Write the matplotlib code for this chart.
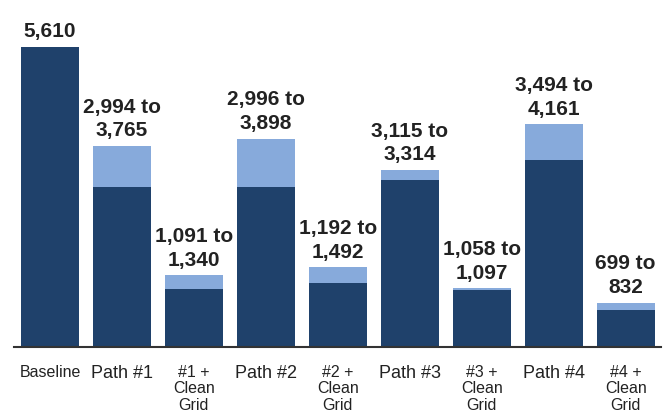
import matplotlib.pyplot as plt
import numpy as np

plt.rcParams['font.family'] = ['Liberation Sans', 'DejaVu Sans']

# scenario names and the low / high ends of each range
categories = ['Baseline', 'Path #1', '#1 +\nClean\nGrid', 'Path #2', '#2 +\nClean\nGrid',
              'Path #3', '#3 +\nClean\nGrid', 'Path #4', '#4 +\nClean\nGrid']
low_vals = [5610, 2994, 1091, 2996, 1192, 3115, 1058, 3494, 699]
high_vals = [5610, 3765, 1340, 3898, 1492, 3314, 1097, 4161, 832]
tick_sizes = [11.5, 13, 11.5, 13, 11.5, 13, 11.5, 13, 11.5]

dark = '#1f416b'
light = '#87aadb'

fig = plt.figure(figsize=(6.68, 4.16), dpi=100)
ax = fig.add_axes([14 / 668, 69 / 416, 647 / 668, 347 / 416])

x = np.arange(len(categories))
width = 0.806
extra = [h - l for l, h in zip(low_vals, high_vals)]
ax.bar(x, low_vals, width, color=dark, zorder=2)
ax.bar(x, extra, width, bottom=low_vals, color=light, zorder=2)

# value labels above each bar
for i, (l, h) in enumerate(zip(low_vals, high_vals)):
    if l == h:
        txt = f'{l:,}'
    else:
        txt = f'{l:,} to\n{h:,}'
    ax.annotate(txt, (x[i], h), xytext=(0, 4), textcoords='offset points',
                ha='center', va='bottom', fontsize=15, fontweight='bold',
                color='#222222', linespacing=1.3)

ax.set_xlim(-0.5, 8.49)
ax.set_ylim(0, 6488)
ax.set_yticks([])
ax.set_xticks(x)
ax.set_xticklabels(categories)
for lbl, fs in zip(ax.get_xticklabels(), tick_sizes):
    lbl.set_fontsize(fs)
    lbl.set_color('#222222')
    lbl.set_linespacing(1.12)
    lbl.set_verticalalignment('top')
ax.tick_params(axis='x', length=0, pad=13)

for s in ['top', 'right', 'left']:
    ax.spines[s].set_visible(False)
ax.spines['bottom'].set_color('#333333')
ax.spines['bottom'].set_linewidth(1.5)

fig.savefig('out.png', dpi=100)
